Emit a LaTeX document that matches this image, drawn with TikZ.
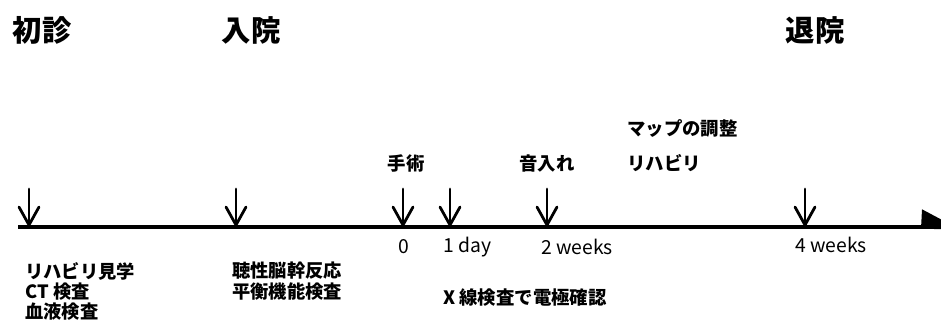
\documentclass[tikz,border=0pt]{standalone}
\usepackage{fontspec}
\setmainfont{Noto Sans CJK JP}
\usetikzlibrary{arrows.meta}
\tikzset{
  title/.style={font=\fontsize{22}{24}\selectfont\bfseries, inner sep=0pt},
  lab/.style={font=\fontsize{13.8}{15}\selectfont\bfseries, inner sep=0pt},
  num/.style={font=\fontsize{14.5}{16}\selectfont, inner sep=0pt},
  multi/.style={font=\fontsize{13.7}{15.2}\selectfont\bfseries, inner sep=0pt, align=left, anchor=north west},
  axis/.style={line width=2.7pt},
  pics/downarrow/.style={code={
    \draw[line width=2.1pt, line cap=round] (0,-37) -- (0,-1);
    \draw[line width=2.1pt, line cap=round, line join=miter] (-10,-19) -- (0,-1) -- (10,-19);
  }}
}
\begin{document}
\begin{tikzpicture}[x=0.75pt, y=-0.75pt]
\useasboundingbox (0,0) rectangle (941,321);
\clip (0,0) rectangle (941,321);
% titles
\node[title] (shoshin) at (42,30) {初診};
\node[title] (nyuin) at (251,30) {入院};
\node[title] (taiin) at (815,30) {退院};
% axis
\coordinate (start) at (18,227);
\coordinate (end) at (921,227);
\draw[axis] (start) -- (end);
\fill (end) ++(0,1.8) -- ++(1,-19.5) -- ++(32,17) -- ++(0,3) -- cycle;
% arrows
\coordinate (a1) at (29,226);
\coordinate (a2) at (236,226);
\coordinate (a3) at (403,226);
\coordinate (a4) at (450,226);
\coordinate (a5) at (547,226);
\coordinate (a6) at (805,226);
\foreach \a in {a1,a2,a3,a4,a5,a6} \pic at (\a) {downarrow};
% labels above
\node[lab] (shujutsu) at (406,163) {手術};
\node[lab] (otoire) at (547,163) {音入れ};
\node[lab, anchor=west] (map) at (627,128) {マップの調整};
\node[lab, anchor=west] (reha) at (627,163) {リハビリ};
% labels below
\node[num] (t0) at (404,247) {0};
\node[num, anchor=west] (t1) at (443,247) {1 day};
\node[num, anchor=west] (t2) at (541,247) {2 weeks};
\node[num, anchor=west] (t4) at (795,245) {4 weeks};
\node[multi] (m1) at (25,262) {リハビリ見学\\CT 検査\\血液検査};
\node[multi] (m2) at (232,262) {聴性脳幹反応\\平衡機能検査};
\node[lab, anchor=west] (xray) at (443,298) {X 線検査で電極確認};
\end{tikzpicture}
\end{document}
